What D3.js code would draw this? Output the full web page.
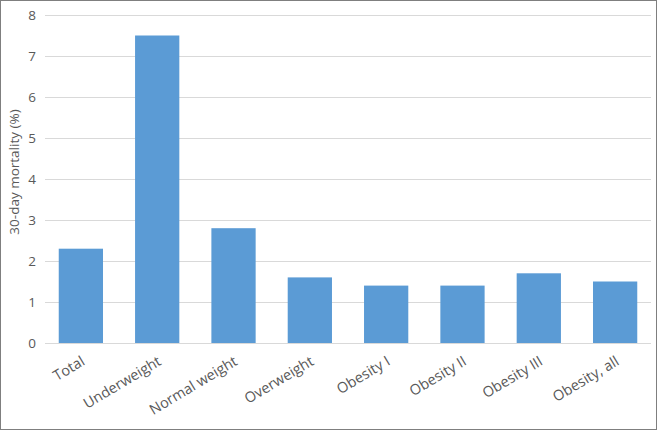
<!DOCTYPE html>
<html>
<head>
<meta charset="utf-8">
<script src="https://cdn.jsdelivr.net/npm/d3@7"></script>
<style>
  body { margin: 0; background: #fff; }
  text { font-family: "Open Sans", sans-serif; fill: #595959; }
</style>
</head>
<body>
<div class="chart"></div>
<script>
// data
const categories = ["Total", "Underweight", "Normal weight", "Overweight",
  "Obesity I", "Obesity II", "Obesity III", "Obesity, all"];
const mortality = [2.3, 7.5, 2.8, 1.6, 1.4, 1.4, 1.7, 1.5];
const yTicks = [0, 1, 2, 3, 4, 5, 6, 7, 8];

const w = 658;
const h = 431;
const margin = { top: 15, right: 7, bottom: 88, left: 45 };

const svg = d3.select(".chart")
  .append("svg")
  .attr("width", w)
  .attr("height", h);

// outer frame
svg.append("rect")
  .attr("x", 0.5)
  .attr("y", 0.5)
  .attr("width", w - 2)
  .attr("height", h - 2)
  .attr("fill", "#fff")
  .attr("stroke", "#7f7f7f");

const x = d3.scaleBand()
  .domain(categories)
  .range([margin.left, w - margin.right])
  .paddingInner(0.42)
  .paddingOuter(0.18);

const y = d3.scaleLinear()
  .domain([0, 8])
  .range([h - margin.bottom, margin.top]);

// gridlines
svg.append("g")
  .selectAll("line")
  .data(yTicks)
  .enter()
  .append("line")
  .attr("x1", margin.left)
  .attr("x2", w - margin.right)
  .attr("y1", d => Math.round(y(d)) + 0.5)
  .attr("y2", d => Math.round(y(d)) + 0.5)
  .attr("stroke", "#d9d9d9");

// y axis labels
const yAxis = d3.axisLeft(y).tickValues(yTicks).tickSize(0).tickPadding(9);
svg.append("g")
  .attr("transform", `translate(${margin.left},0)`)
  .call(yAxis)
  .call(g => g.select(".domain").remove())
  .selectAll("text")
  .style("font-size", "13.5px")
  .attr("fill", "#595959");

// bars
svg.append("g")
  .selectAll("rect")
  .data(mortality)
  .enter()
  .append("rect")
  .attr("x", (d, i) => x(categories[i]))
  .attr("y", d => y(d))
  .attr("width", x.bandwidth())
  .attr("height", d => y(0) - y(d))
  .attr("fill", "#5b9bd5");

// x axis labels, rotated
const xAxis = d3.axisBottom(x).tickSize(0).tickPadding(0);
svg.append("g")
  .attr("transform", `translate(0,${y(0)})`)
  .call(xAxis)
  .call(g => g.select(".domain").remove())
  .selectAll("text")
  .style("font-size", "14.5px")
  .attr("fill", "#595959")
  .attr("text-anchor", "end")
  .attr("dy", 0)
  .attr("transform", "translate(5,21) rotate(-31)");

// y title
svg.append("text")
  .attr("transform", `translate(19,${(margin.top + h - margin.bottom) / 2 - 7}) rotate(-90)`)
  .attr("text-anchor", "middle")
  .style("font-size", "13.5px")
  .text("30-day mortality (%)");
</script>
</body>
</html>
